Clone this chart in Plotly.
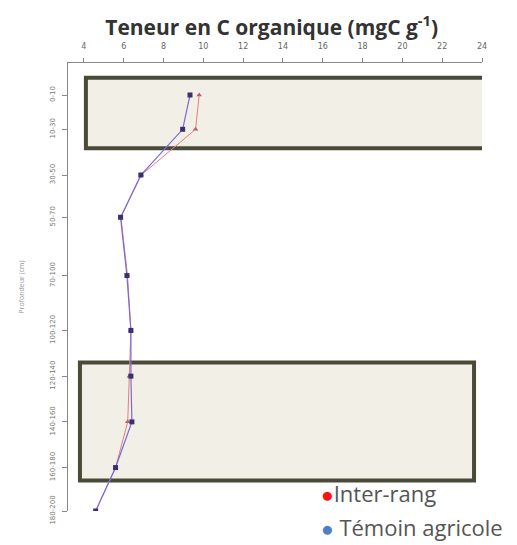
import plotly.graph_objects as go

depth_labels = ["0-10", "10-30", "30-50", "50-70", "70-100", "100-120",
                "120-140", "140-160", "160-180", "180-200"]
depth_pos = [5, 20, 40, 58.5, 84, 108, 128, 148, 168, 187]
inter_rang = [9.79, 9.61, 6.88, 5.86, 6.19, 6.36, 6.28, 6.2, 5.59, 4.59]
temoin = [9.33, 8.96, 6.86, 5.84, 6.16, 6.36, 6.36, 6.41, 5.59, 4.59]
x_ticks = [4, 6, 8, 10, 12, 14, 16, 18, 20, 22, 24]

fig = go.Figure()
fig.add_trace(go.Scatter(x=inter_rang, y=depth_pos, mode="lines+markers",
                         line=dict(color="#e08080", width=1),
                         marker=dict(symbol="triangle-up", size=5, color="#c06070"),
                         showlegend=False))
fig.add_trace(go.Scatter(x=temoin, y=depth_pos, mode="lines+markers",
                         line=dict(color="#7a6ad8", width=1.2),
                         marker=dict(symbol="square", size=5, color="#3b2f70"),
                         showlegend=False))

box_style = dict(type="rect", xref="x", yref="y", layer="below",
                 line=dict(color="#4a4a38", width=4), fillcolor="#f2efe7")
fig.add_shape(x0=4.1, x1=24.1, y0=-2.5, y1=28.3, **box_style)
fig.add_shape(x0=3.8, x1=23.6, y0=122, y1=173.7, **box_style)

fig.update_xaxes(range=[3.2, 24], side="top", tickvals=x_ticks, automargin=False,
                 showgrid=False, zeroline=False, showline=True,
                 linecolor="#888", linewidth=1, ticks="outside", ticklen=4,
                 ticklabelstandoff=6,
                 tickcolor="#888", tickfont=dict(size=8, color="#666",
                                                 family="DejaVu Sans"))
fig.update_yaxes(range=[187, -9], tickvals=depth_pos, ticktext=depth_labels,
                 automargin=False, ticklabelstandoff=4,
                 tickangle=-90, showgrid=False, zeroline=False, showline=True,
                 linecolor="#888", linewidth=1, ticks="outside", ticklen=5,
                 tickcolor="#888", tickfont=dict(size=7, color="#777",
                                                 family="DejaVu Sans"),
                 title=dict(text="Profondeur (cm)", font=dict(size=7, color="#999"),
                            standoff=23))

fig.add_annotation(xref="paper", yref="paper", x=0.607, y=0.04,
                   xanchor="left", yanchor="middle", showarrow=False,
                   text='<span style="color:#ff1010;font-size:21px">●</span>Inter-rang',
                   font=dict(size=22, color="#555", family="Open Sans"))
fig.add_annotation(xref="paper", yref="paper", x=0.607, y=-0.036,
                   xanchor="left", yanchor="middle", showarrow=False,
                   text='<span style="color:#4a80c8;font-size:21px">●</span> Témoin agricole',
                   font=dict(size=22, color="#555", family="Open Sans"))

fig.update_layout(
    width=509, height=537,
    margin=dict(l=60, r=35, t=55, b=34),
    paper_bgcolor="white", plot_bgcolor="white",
    title=dict(text="<b>Teneur en C organique (mgC g<sup>-1</sup>)</b>",
               x=0.518, xanchor="center", y=0.964, yanchor="middle",
               font=dict(size=21, color="#333", family="Open Sans")),
)
fig.write_html("out.html")
